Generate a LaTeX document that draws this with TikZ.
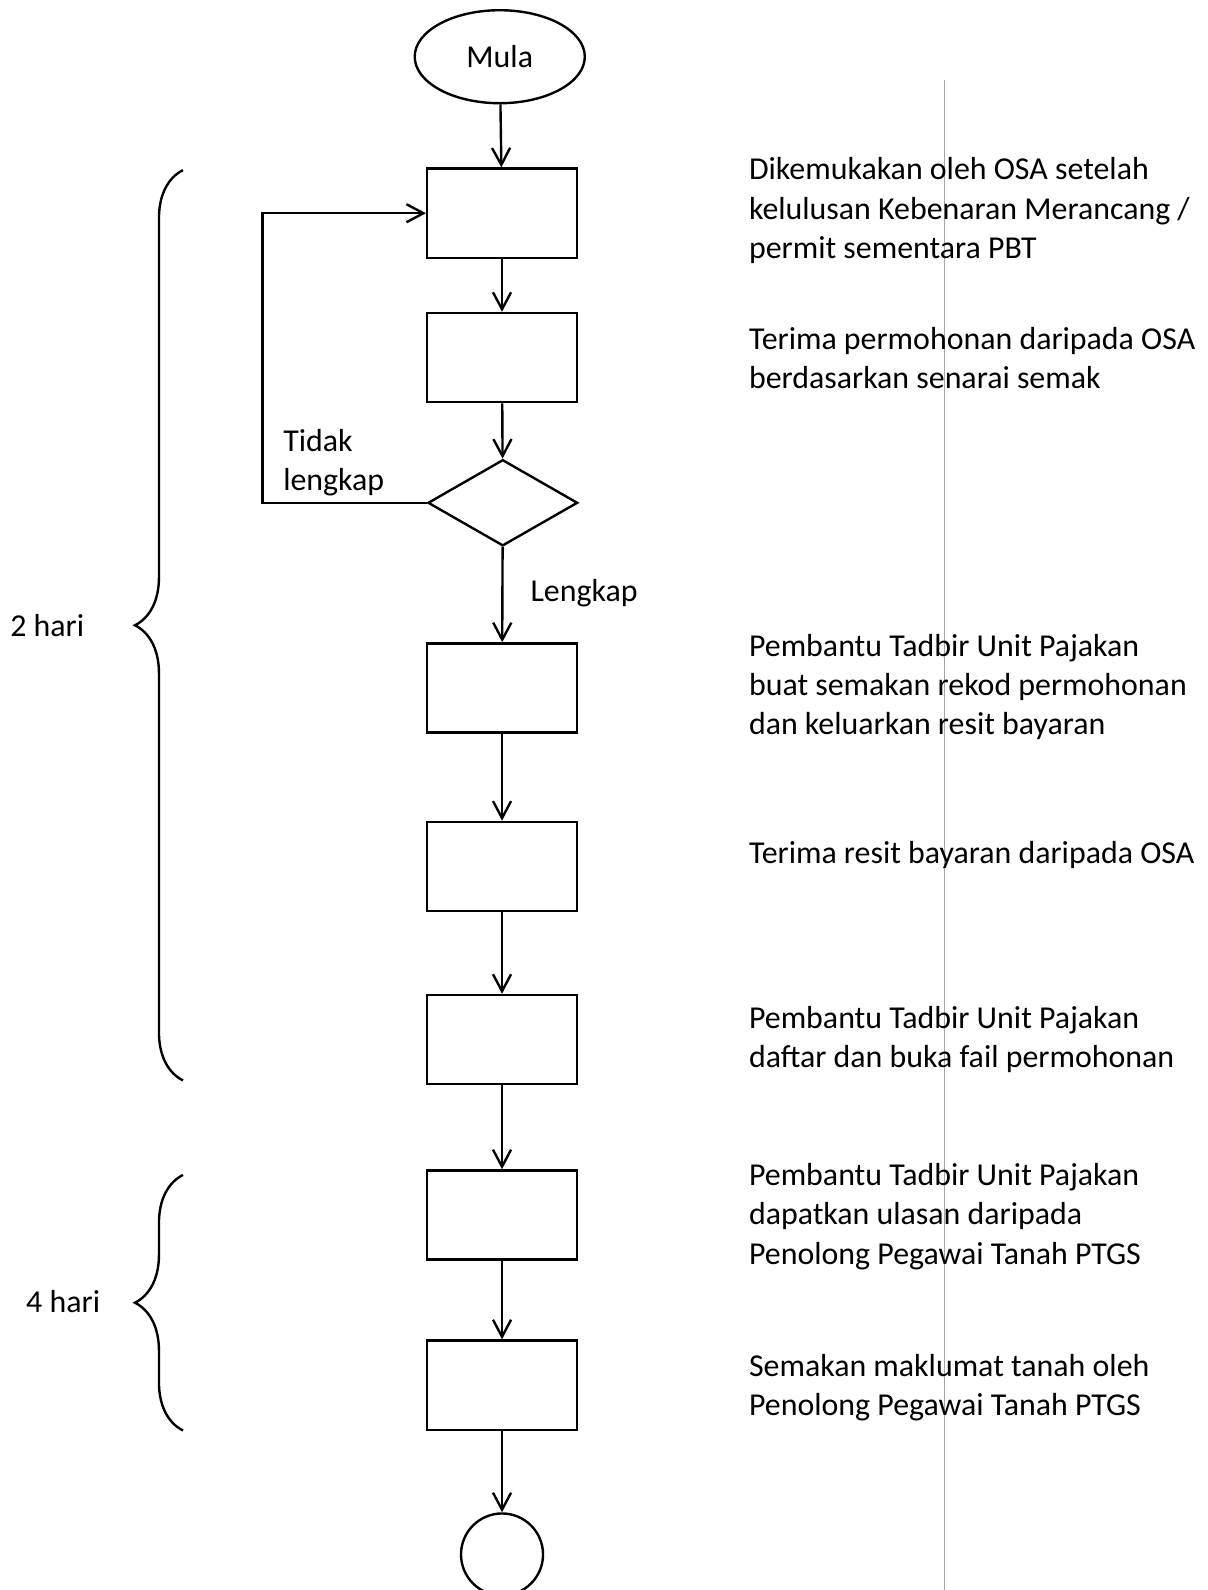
\documentclass[tikz,border=0pt]{standalone}
\usepackage{fontspec}
\setmainfont{Carlito}
\usetikzlibrary{arrows.meta}
\usetikzlibrary{shapes.geometric}
\usetikzlibrary{decorations.pathreplacing}
\pgfdeclarelayer{edgelayer}
\pgfdeclarelayer{nodelayer}
\pgfsetlayers{edgelayer,nodelayer,main}
\tikzstyle{terminal}=[ellipse,draw=black,line width=0.9pt,minimum width=2.25cm,minimum height=1.23cm,inner sep=0pt,font={\fontsize{12pt}{14.8pt}\selectfont}]
\tikzstyle{process}=[rectangle,draw=black,line width=0.9pt,minimum width=1.98cm,minimum height=1.18cm,inner sep=0pt]
\tikzstyle{decision}=[diamond,draw=black,line width=0.9pt,minimum width=1.98cm,minimum height=1.14cm,inner sep=0pt]
\tikzstyle{end_state}=[circle,draw=black,line width=0.9pt,minimum size=1.085cm,inner sep=0pt]
\tikzstyle{note}=[anchor=north west,align=left,inner sep=0pt,font={\fontsize{12pt}{14.8pt}\selectfont}]
\tikzstyle{side_note}=[anchor=west,inner sep=0pt,font={\fontsize{12pt}{14.8pt}\selectfont}]
\tikzstyle{flow}=[-{Straight Barb[length=6.4pt,width=6.8pt]},draw=black,line width=0.9pt]
\tikzstyle{period}=[draw=black,line width=0.9pt,decorate,decoration={brace,amplitude=0.635cm}]

\begin{document}
\begin{tikzpicture}
	\useasboundingbox (0, 0) rectangle (15.97, -21.03);
	\begin{pgfonlayer}{nodelayer}
		\node [style=terminal] (0) at (6.61, -0.75) {Mula};
		\node [style=process] (1) at (6.64, -2.82) {};
		\node [style=process] (2) at (6.64, -4.73) {};
		\node [style=decision] (3) at (6.65, -6.65) {};
		\node [style=process] (4) at (6.64, -9.10) {};
		\node [style=process] (5) at (6.64, -11.46) {};
		\node [style=process] (6) at (6.64, -13.75) {};
		\node [style=process] (7) at (6.64, -16.07) {};
		\node [style=process] (8) at (6.64, -18.32) {};
		\node [style={end_state}] (9) at (6.64, -20.56) {};
		\node [style=note] (10) at (9.90, -2.08) {Dikemukakan oleh OSA setelah\\kelulusan Kebenaran Merancang /\\permit sementara PBT};
		\node [style=note] (11) at (9.90, -4.32) {Terima permohonan daripada OSA\\berdasarkan senarai semak};
		\node [style=note] (12) at (9.90, -8.38) {Pembantu Tadbir Unit Pajakan\\buat semakan rekod permohonan\\dan keluarkan resit bayaran};
		\node [style=note] (13) at (9.90, -11.12) {Terima resit bayaran daripada OSA};
		\node [style=note] (14) at (9.90, -13.30) {Pembantu Tadbir Unit Pajakan\\daftar dan buka fail permohonan};
		\node [style=note] (15) at (9.90, -15.38) {Pembantu Tadbir Unit Pajakan\\dapatkan ulasan daripada\\Penolong Pegawai Tanah PTGS};
		\node [style=note] (16) at (9.90, -17.90) {Semakan maklumat tanah oleh\\Penolong Pegawai Tanah PTGS};
		\node [style=note] (17) at (3.74, -5.67) {Tidak\\lengkap};
		\node [style=note] (18) at (7.01, -7.66) {Lengkap};
		\node [style={side_note}] (19) at (0.13, -8.28) {2 hari};
		\node [style={side_note}] (20) at (0.34, -17.21) {4 hari};
		\coordinate (21) at (3.47, -6.65);
		\coordinate (22) at (2.42, -14.29);
		\coordinate (23) at (2.42, -2.25);
		\coordinate (24) at (2.42, -18.92);
		\coordinate (25) at (2.42, -15.54);
		\coordinate (26) at (12.49, -1.06);
		\coordinate (27) at (12.49, -21.03);
	\end{pgfonlayer}
	\begin{pgfonlayer}{edgelayer}
		\draw [style=flow] (0) to (1);
		\draw [style=flow] (1) to (2);
		\draw [style=flow] (2) to (3);
		\draw [style=flow] (3) to (4);
		\draw [style=flow] (4) to (5);
		\draw [style=flow] (5) to (6);
		\draw [style=flow] (6) to (7);
		\draw [style=flow] (7) to (8);
		\draw [style=flow] (8) to (9);
		\draw [style=flow] (3.west) -- (21) |- (1.west);
		\draw [style=period] (22) -- (23);
		\draw [style=period] (24) -- (25);
		\draw [gray!70, line width=0.3pt] (26) -- (27);
	\end{pgfonlayer}
\end{tikzpicture}
\end{document}
